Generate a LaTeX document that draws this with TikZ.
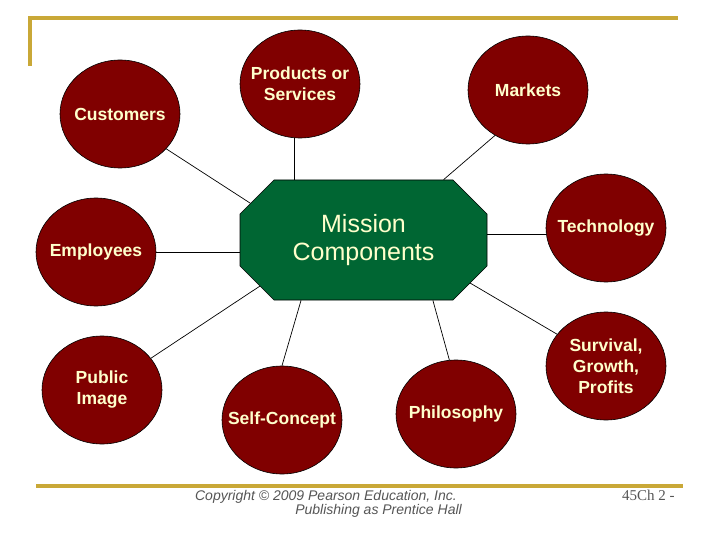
\documentclass[tikz,border=0pt]{standalone}
\usepackage{fontspec}
\setmainfont{Liberation Sans}
\newfontfamily\serifnum{Liberation Serif}
\usetikzlibrary{shapes.geometric,shapes.misc}
\definecolor{topicred}{RGB}{128,0,0}
\definecolor{corefill}{RGB}{0,102,51}
\definecolor{creamtext}{RGB}{255,255,204}
\definecolor{rulegold}{RGB}{201,168,55}
\definecolor{notegray}{RGB}{85,85,85}

\begin{document}
\begin{tikzpicture}[x=1pt,y=-1pt,
  topic/.style={ellipse,draw=black,line width=0.6pt,fill=topicred,text=creamtext,
    minimum width=120pt,minimum height=108pt,inner sep=-20pt,align=center,
    font=\fontsize{17.5}{21}\selectfont\bfseries},
  core/.style={chamfered rectangle,chamfered rectangle xsep=17pt,
    chamfered rectangle ysep=17pt,draw=black,
    line width=0.6pt,fill=corefill,text=creamtext,minimum width=247pt,
    minimum height=120pt,inner sep=0pt,align=center,
    font=\fontsize{25}{28}\selectfont},
  link/.style={line width=0.7pt},
  goldrule/.style={rulegold,line width=3.5pt}]
\useasboundingbox (0,0) rectangle (720,540);

% frame rules
\draw[goldrule] (30,66) -- (30,18) -- (678,18);
\draw[goldrule] (36,486) -- (683,486);

% centre and topics
\node[core] (mission) at (363.5,240) {Mission\\Components};
\node[topic] (cust) at (120,114) {Customers};
\node[topic] (prod) at (300,84) {Products or\\Services};
\node[topic] (mark) at (528,90) {Markets};
\node[topic] (empl) at (96,252) {Employees};
\node[topic] (tech) at (606,228) {Technology};
\node[topic] (surv) at (606,366) {Survival,\\Growth,\\Profits};
\node[topic] (pimg) at (102,390) {Public\\Image};
\node[topic] (self) at (282,420) {Self-Concept};
\node[topic] (phil) at (456,414) {Philosophy};

% connectors
\draw[link] (cust.-37) -- (mission.162);
\draw[link] ([xshift=-6pt]prod.south) -- ([xshift=-6pt]prod.south |- mission.north);
\draw[link] (mark.-126) -- (mission.37);
\draw[link] (empl.east) -- (empl.east -| mission.west);
\draw[link] (tech.186) -- (tech.186 -| mission.east);
\draw[link] (pimg.33) -- (mission.204);
\draw[link] (self.north) -- (mission.224);
\draw[link] (phil.97) -- (mission.-41);
\draw[link] (surv.147) -- (mission.-22);

% footer
\node[notegray,align=right,anchor=north east,inner sep=0pt,
  font=\fontsize{14}{14.5}\selectfont\itshape] (copy) at (462,490)
  {Copyright \textcopyright{} 2009 Pearson Education, Inc.\hspace*{5pt}\\Publishing as Prentice Hall};
\node[notegray,anchor=north west,inner sep=0pt,
  font=\fontsize{15}{16}\selectfont\serifnum] (page) at (622,490) {45Ch 2 -};
\end{tikzpicture}
\end{document}
